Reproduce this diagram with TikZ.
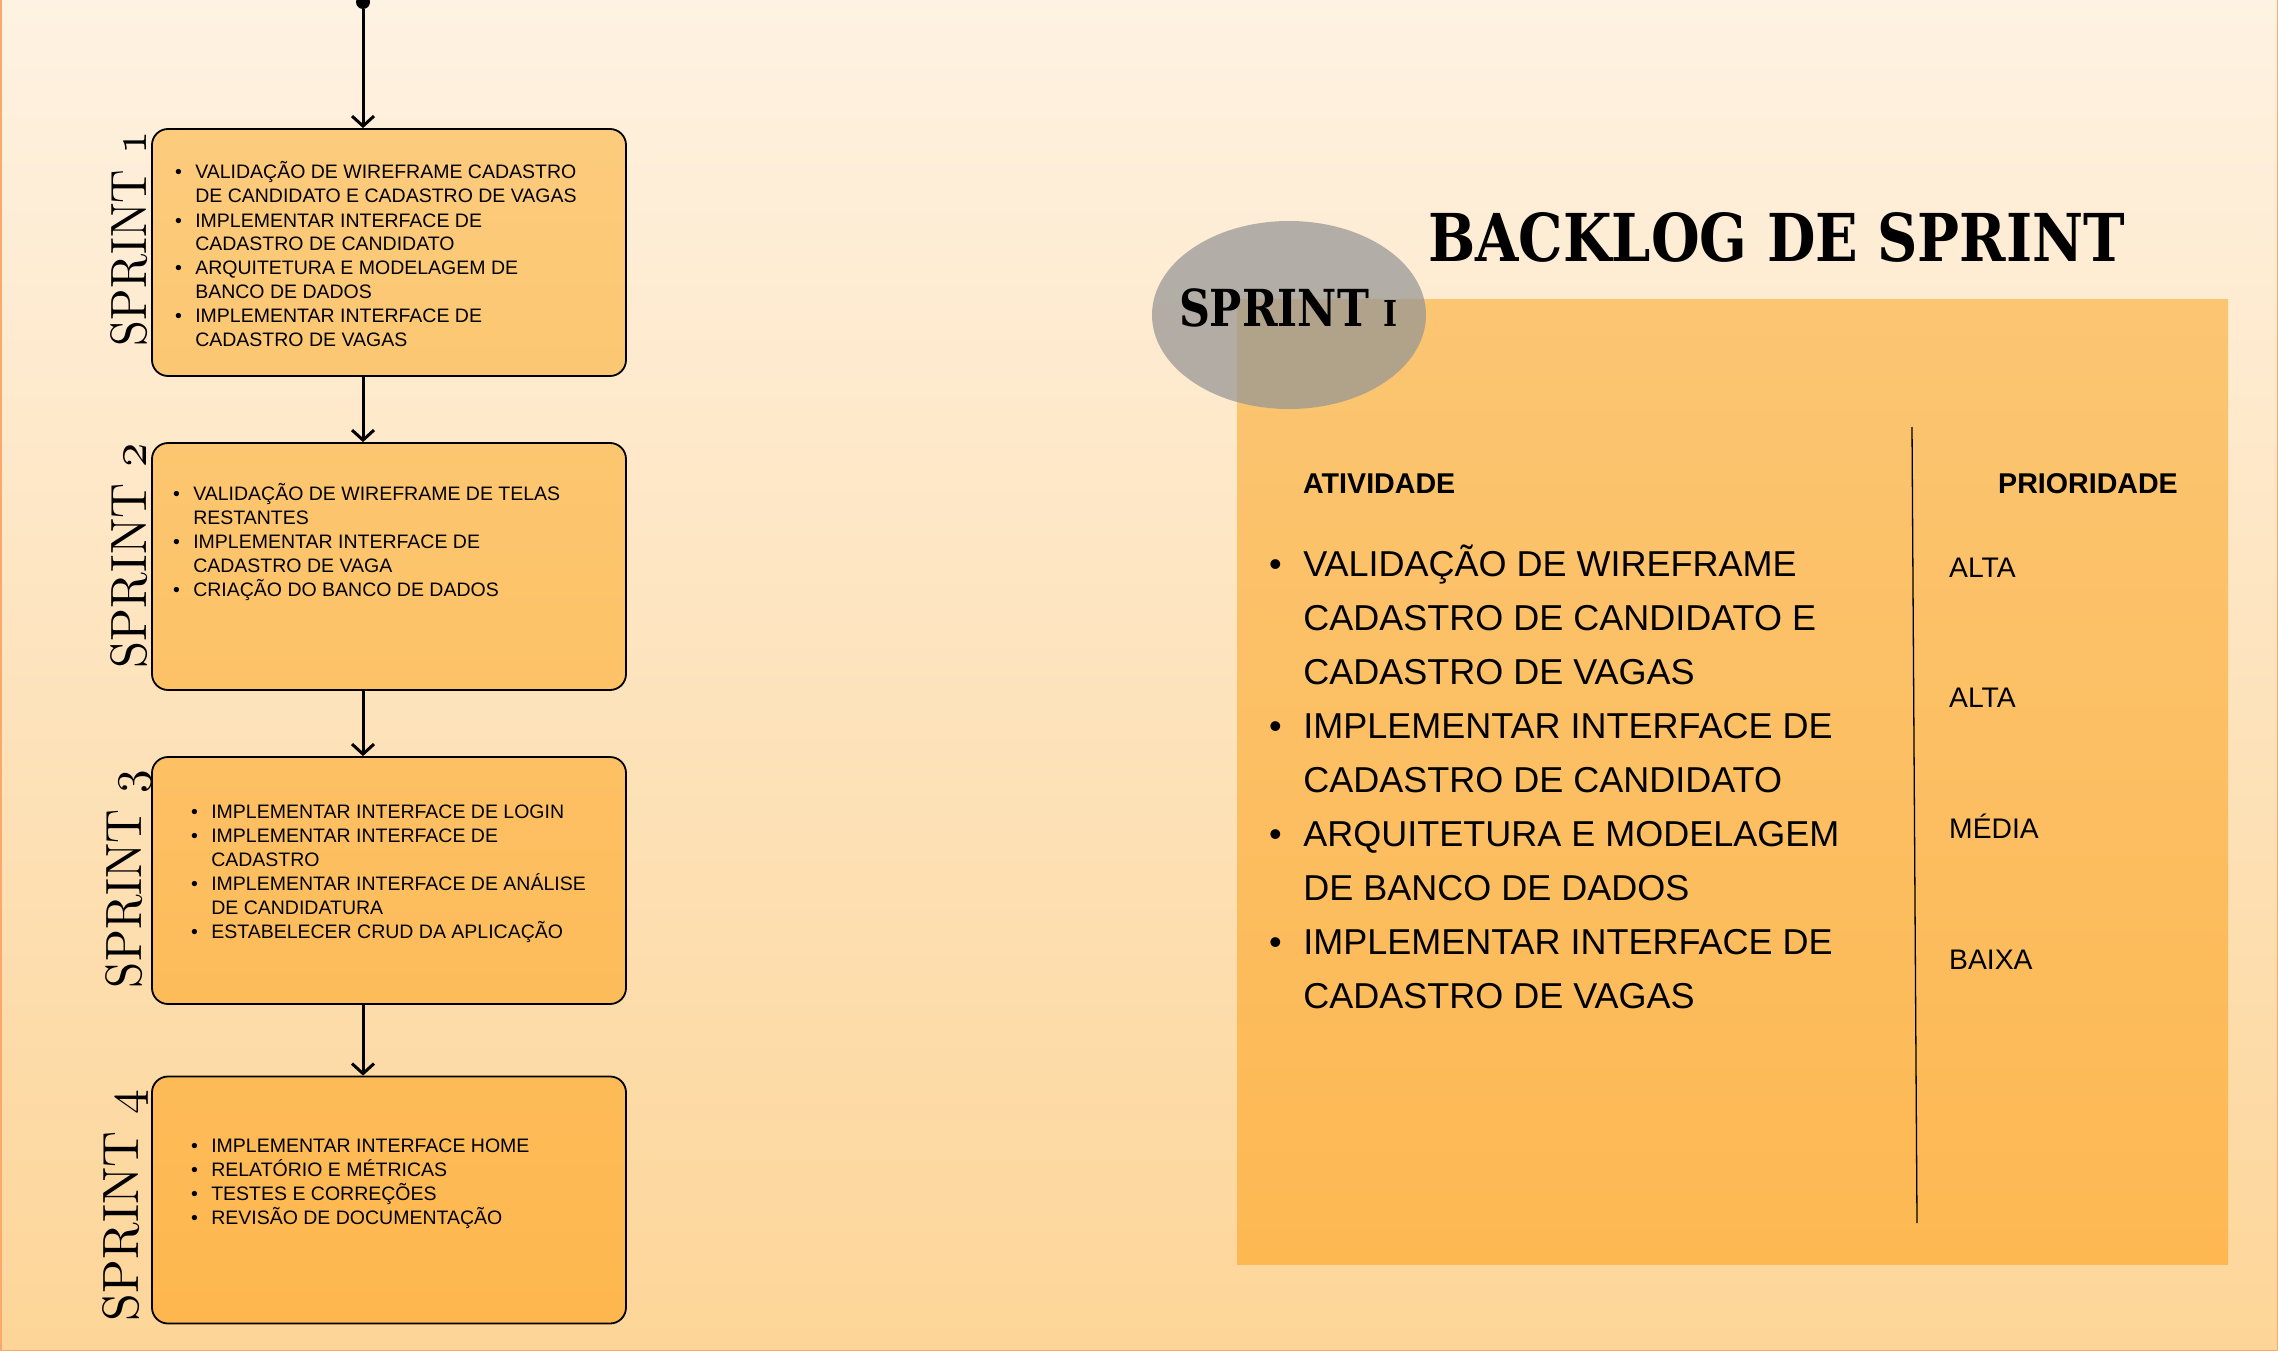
\documentclass[tikz,border=0pt]{standalone}
\usepackage{fontspec}
\usepackage{graphicx}
\usetikzlibrary{arrows.meta,shapes.geometric}
\newfontfamily\bodyfont{Liberation Sans}
\newfontfamily\serifold{lmroman10-regular.otf}
\newfontfamily\titlefont{DejaVu Serif}
\newcommand\osn[1]{\scalebox{5.1}{\fontsize{10}{10}\usefont{OML}{lmm}{m}{it}#1}}
\definecolor{bgtop}{RGB}{254,242,226}
\definecolor{bgbot}{RGB}{253,213,152}
\definecolor{bordercol}{RGB}{250,168,108}
\definecolor{pantop}{RGB}{251,197,114}
\definecolor{panbot}{RGB}{253,184,82}
\definecolor{ellgray}{RGB}{149,149,149}
\definecolor{boxA}{RGB}{252,203,124}
\definecolor{boxB}{RGB}{252,199,114}
\definecolor{boxC}{RGB}{252,198,112}
\definecolor{boxD}{RGB}{253,194,102}
\definecolor{boxE}{RGB}{253,192,100}
\definecolor{boxF}{RGB}{253,188,90}
\definecolor{boxG}{RGB}{253,187,88}
\definecolor{boxH}{RGB}{254,183,78}
\newcommand\blist[2]{\begin{tabular}[t]{@{}l@{\hspace{#1}}l@{}}#2\end{tabular}}
\begin{document}
\begin{tikzpicture}[x=1pt,y=-1pt,
  sbox/.style={draw=black, line width=1.8pt, rounded corners=16pt, minimum width=474pt, minimum height=247pt, inner sep=0pt},
  conn/.style={line width=3pt, -{Straight Barb[length=10pt,width=22pt]}},
  ltext/.style={anchor=base west, inner sep=0pt, font=\bodyfont\fontsize{19.5}{24}\selectfont},
  rtext/.style={anchor=base west, inner sep=0pt, font=\bodyfont\fontsize{36}{54}\selectfont},
  prio/.style={anchor=base west, inner sep=0pt, font=\bodyfont\fontsize{28.3}{30}\selectfont},
  head/.style={anchor=base west, inner sep=0pt, font=\bodyfont\bfseries\fontsize{28.6}{30}\selectfont},
  slabel/.style={rotate=90, anchor=base, inner sep=0pt, font=\serifold\fontsize{51}{51}\selectfont}]
\fill[top color=bgtop, bottom color=bgbot] (0,0) rectangle (2278,1351);
\useasboundingbox (0,0) rectangle (2278,1351);
\draw[line width=3pt, bordercol] (0,0) -- (0,1351) -- (2278,1351) -- (2278,0);

% left flow
\node[sbox, top color=boxA, bottom color=boxB] (b1) at (389,252.5) {};
\node[sbox, top color=boxC, bottom color=boxD] (b2) at (389,566.5) {};
\node[sbox, top color=boxE, bottom color=boxF] (b3) at (389,880.5) {};
\node[sbox, top color=boxG, bottom color=boxH] (b4) at (389,1200) {};
\node[circle, fill=black, inner sep=0pt, minimum size=14pt] (dot) at (363,2) {};
\draw[conn] (dot) -- (dot |- b1.north);
\draw[conn] (b1.south -| dot) -- (b2.north -| dot);
\draw[conn] (b2.south -| dot) -- (b3.north -| dot);
\draw[conn] (b3.south -| dot) -- (b4.north -| dot);

\node[ltext] (t1) at (175,179) {\blist{13.25pt}{%
• & VALIDAÇÃO DE WIREFRAME CADASTRO\\
  & DE CANDIDATO E CADASTRO DE VAGAS\\
• & IMPLEMENTAR INTERFACE DE\\
  & CADASTRO DE CANDIDATO\\
• & ARQUITETURA E MODELAGEM DE\\
  & BANCO DE DADOS\\
• & IMPLEMENTAR INTERFACE DE\\
  & CADASTRO DE VAGAS}};
\node[ltext] (t2) at (173,500) {\blist{13.25pt}{%
• & VALIDAÇÃO DE WIREFRAME DE TELAS\\
  & RESTANTES\\
• & IMPLEMENTAR INTERFACE DE\\
  & CADASTRO DE VAGA\\
• & CRIAÇÃO DO BANCO DE DADOS}};
\node[ltext] (t3) at (191,818) {\blist{13.25pt}{%
• & IMPLEMENTAR INTERFACE DE LOGIN\\
• & IMPLEMENTAR INTERFACE DE\\
  & CADASTRO\\
• & IMPLEMENTAR INTERFACE DE ANÁLISE\\
  & DE CANDIDATURA\\
• & ESTABELECER CRUD DA APLICAÇÃO}};
\node[ltext] (t4) at (191,1152) {\blist{13.25pt}{%
• & IMPLEMENTAR INTERFACE HOME\\
• & RELATÓRIO E MÉTRICAS\\
• & TESTES E CORREÇÕES\\
• & REVISÃO DE DOCUMENTAÇÃO}};

\node[slabel] (s1) at (146,238.5) {\resizebox{215pt}{\height}{SPRINT \osn{1}}};
\node[slabel] (s2) at (146,555.5) {\resizebox{225pt}{\height}{SPRINT \osn{2}}};
\node[slabel] (s3) at (141,879) {\resizebox{218pt}{\height}{SPRINT \osn{3}}};
\node[slabel] (s4) at (138,1205.5) {\resizebox{231pt}{\height}{SPRINT \osn{4}}};

% right panel
\fill[top color=pantop, bottom color=panbot] (1237,299) rectangle (2228,1264);
\node[ellipse, fill=ellgray, fill opacity=0.72, minimum width=274pt, minimum height=188pt, inner sep=0pt] (ell) at (1289,315) {};
\node[anchor=base, inner sep=0pt, font=\titlefont\bfseries\fontsize{51}{51}\selectfont] (et) at (1288.5,326.7) {\resizebox{219pt}{\height}{SPRINT \scalebox{0.7}{I}}};
\node[anchor=base west, inner sep=0pt, font=\titlefont\bfseries\fontsize{66}{66}\selectfont] (title) at (1428,261.7) {\resizebox{697pt}{\height}{BACKLOG DE SPRINT}};

\coordinate (vtop) at (1912,427);
\coordinate (vbot) at (1917,1223);
\draw[line width=1.3pt] (vtop) -- (vbot);

\node[head] (h1) at (1303,493) {ATIVIDADE};
\node[head] (h2) at (1998,493) {PRIORIDADE};

\node[rtext] (rl) at (1269,576.5) {\blist{21.5pt}{%
• & VALIDAÇÃO DE WIREFRAME\\
  & CADASTRO DE CANDIDATO E\\
  & CADASTRO DE VAGAS\\
• & IMPLEMENTAR INTERFACE DE\\
  & CADASTRO DE CANDIDATO\\
• & ARQUITETURA E MODELAGEM\\
  & DE BANCO DE DADOS\\
• & IMPLEMENTAR INTERFACE DE\\
  & CADASTRO DE VAGAS}};

\node[prio] (p1) at (1949,577) {ALTA};
\node[prio] (p2) at (1949,707.5) {ALTA};
\node[prio] (p3) at (1949,838) {MÉDIA};
\node[prio] (p4) at (1949,969) {BAIXA};
\end{tikzpicture}
\end{document}
